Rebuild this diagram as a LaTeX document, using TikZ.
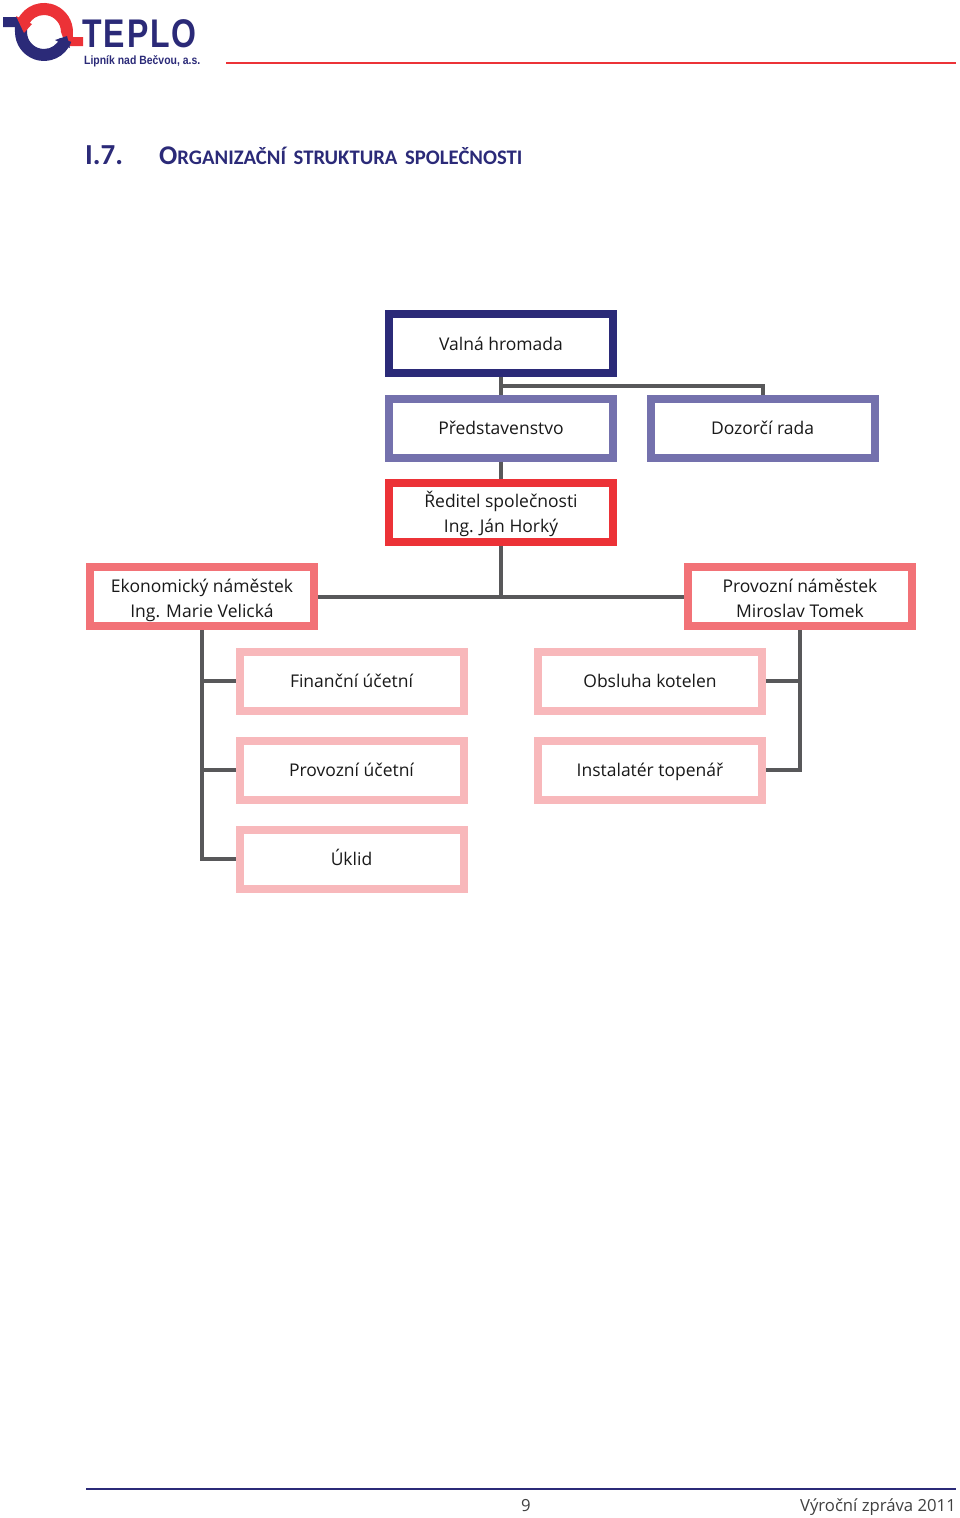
\documentclass[tikz,border=0pt]{standalone}
\usepackage{fontspec}
\setmainfont{Open Sans}
\newfontfamily\headfont{Carlito}
\newfontfamily\logofont[UprightFont={* Bold},LetterSpace=5,FakeStretch=0.8]{Liberation Sans}
\newfontfamily\placefont[UprightFont={* Bold},FakeStretch=0.87]{Liberation Sans}
\definecolor{navy}{HTML}{2B2A78}
\definecolor{violet}{HTML}{7471AD}
\definecolor{signal}{HTML}{EC3237}
\definecolor{salmon}{HTML}{F27277}
\definecolor{blush}{HTML}{F8B8BB}
\definecolor{wire}{HTML}{58585A}
\newcommand{\oneline}[1]{\rule[-6pt]{0pt}{25pt}#1}
\newcommand{\twolines}[2]{\rule{0pt}{22pt}#1\\#2\rule[-6pt]{0pt}{6pt}}
\tikzset{
  orgbox/.style={draw=#1,fill=white,line width=8pt,minimum width=224pt,minimum height=59pt,
    inner sep=0pt,align=center,font=\fontsize{17.5}{25}\selectfont,text=black!90},
  wirepath/.style={draw=wire,line width=4pt},
}
\begin{document}
\begin{tikzpicture}[x=1pt,y=-1pt]
  \useasboundingbox (0,0) rectangle (960,1518);
  % logo ring, arrows and bars
  \fill[signal] (73,37) -- (83,37) -- (83,46) -- (66,46) -- (61,32)
    arc (0:-155:17) -- (17.7,19.7) arc (-155:0:29) -- cycle;
  \fill[navy] (3,17) -- (17,17) -- (27,27) -- (27,32)
    arc (180:20:17) -- (71.25,41.9) arc (20:180:29) -- (15,27) -- (3,27) -- cycle;
  \fill[navy] (70,48) -- (67,36) -- (55,40) -- cycle;
  \fill[signal] (16,16) -- (32,24) -- (24,33) -- cycle;
  \node[anchor=base west,inner sep=0pt,text=navy,font=\logofont\fontsize{40}{40}\selectfont] (logotext) at (82,47) {TEPLO};
  \node[anchor=base west,inner sep=0pt,text=navy,font=\placefont\fontsize{12}{12}\selectfont] (logoplace) at (84,64) {Lipník nad Bečvou, a.s.};
  \draw[signal,line width=1.5pt] (226,63) -- (956,63);

  % chapter heading
  \node[anchor=base west,inner sep=0pt,text=navy,font=\headfont\bfseries\fontsize{29}{29}\selectfont] (chapter) at (85,164) {I.7.};
  \node[anchor=base west,inner sep=0pt,text=navy,font=\headfont\bfseries] (heading) at (159,164)
    {\fontsize{27}{27}\selectfont O\fontsize{20.7}{21}\selectfont RGANIZAČNÍ\hspace{3pt} STRUKTURA\hspace{3pt} SPOLEČNOSTI};

  % boxes of the organisation
  \foreach \name/\col/\xc/\yc/\txt in {
      valna/navy/501/343.5/{\oneline{Valná hromada}},
      predstavenstvo/violet/501/428/{\oneline{Představenstvo}},
      dozorci/violet/762.5/428/{\oneline{Dozorčí rada}},
      reditel/signal/501/512/{\twolines{Ředitel společnosti}{Ing. Ján Horký}},
      ekonom/salmon/202/596.5/{\twolines{Ekonomický náměstek}{Ing. Marie Velická}},
      provoz/salmon/800/596.5/{\twolines{Provozní náměstek}{Miroslav Tomek}},
      financni/blush/351.5/681/{\oneline{Finanční účetní}},
      obsluha/blush/650/681/{\oneline{Obsluha kotelen}},
      ucetni/blush/351.5/770/{\oneline{Provozní účetní}},
      instalater/blush/650/770/{\oneline{Instalatér topenář}},
      uklid/blush/351.5/859/{\oneline{Úklid}}%
    } {
      \node[orgbox=\col] (\name) at (\xc,\yc) {\txt};
    };

  % connectors
  \coordinate (forktop) at (501,386);
  \coordinate (forkmid) at (501,596.5);
  \draw[wirepath] (valna) -- (predstavenstvo);
  \draw[wirepath] (forktop) -| (dozorci);
  \draw[wirepath] (predstavenstvo) -- (reditel);
  \draw[wirepath] (reditel) -- (forkmid);
  \draw[wirepath] (ekonom) -- (provoz);
  \foreach \name in {financni,ucetni,uklid} {
    \draw[wirepath] (ekonom) |- (\name);
  };
  \foreach \name in {obsluha,instalater} {
    \draw[wirepath] (provoz) |- (\name);
  };

  % footer
  \coordinate (footleft) at (86,1489);
  \coordinate (footright) at (956,1489);
  \draw[navy,line width=1.5pt] (footleft) -- (footright);
  \node[anchor=base,inner sep=0pt,text=black!75,font=\fontsize{16.7}{17}\selectfont] (pageno) at (526,1511) {9};
  \node[anchor=base east,inner sep=0pt,text=black!75,font=\fontsize{16.7}{17}\selectfont] (report) at (956,1511) {Výroční zpráva 2011};
\end{tikzpicture}
\end{document}
